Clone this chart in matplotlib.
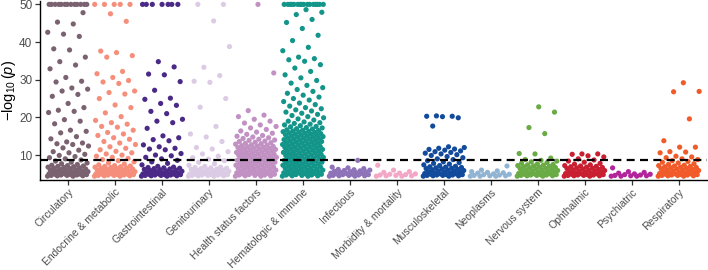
import matplotlib
matplotlib.use("Agg")
import matplotlib.pyplot as plt
import numpy as np

plt.rcParams['font.family'] = ['Liberation Sans', 'DejaVu Sans']
plt.rcParams['mathtext.fontset'] = 'custom'
plt.rcParams['mathtext.rm'] = 'Liberation Sans'
plt.rcParams['mathtext.it'] = 'Liberation Sans:italic'

categories = ['Circulatory', 'Endocrine & metabolic', 'Gastrointestinal', 'Genitourinary',
              'Health status factors', 'Hematologic & immune', 'Infectious',
              'Morbidity & mortality', 'Musculoskeletal', 'Neoplasms', 'Nervous system',
              'Ophthalmic', 'Psychiatric', 'Respiratory']

colors = ['#7b6271', '#f58f7c', '#4a2a86', '#dccbe4', '#c291c3', '#13958a', '#8f73b9',
          '#f4a6c6', '#124a9c', '#92b4d3', '#6aab45', '#c81f31', '#b2249b', '#f15a29']

# -log10(p) per association, grouped by category (values above 50 capped at 50)
circulatory = [4.4, 4.4, 4.5, 4.5, 4.6, 4.6, 4.7, 4.7, 4.8, 4.8, 4.9, 4.9, 5.0, 5.0, 5.1,
               5.2, 5.2, 5.3, 5.4, 5.4, 5.5, 5.6, 5.6, 5.7, 5.8, 5.9, 6.0, 6.1, 6.2, 6.3,
               6.4, 6.5, 6.6, 6.7, 6.8, 6.9, 7.0, 7.1, 7.2, 7.3, 7.5, 7.7, 7.9, 8.1, 8.4,
               8.7, 9.0, 9.3, 9.6, 9.9, 10.2, 10.6, 10.9, 11.3, 11.9, 12.4, 12.8, 13.0,
               13.2, 13.5, 14.3, 14.9, 15.9, 16.3, 16.6, 18.3, 19.0, 19.4, 21.3, 21.6, 21.9,
               22.6, 23.7, 25.6, 26.1, 27.0, 27.5, 27.8, 29.4, 29.6, 30.6, 32.9, 33.9, 34.8,
               36.0, 37.9, 38.2, 41.5, 42.1, 42.6, 44.8, 45.3, 47.8,
               50, 50, 50, 50, 50, 50, 50, 50, 50, 50, 50, 50, 50]
endocrine = [4.4, 4.4, 4.5, 4.5, 4.6, 4.6, 4.7, 4.7, 4.8, 4.8, 4.9, 4.9, 5.0, 5.0, 5.1, 5.2,
             5.2, 5.3, 5.4, 5.4, 5.5, 5.6, 5.6, 5.7, 5.8, 5.9, 6.0, 6.1, 6.2, 6.3, 6.4, 6.5,
             6.6, 6.7, 6.8, 6.9, 7.0, 7.1, 7.2, 7.4, 7.6, 7.9, 8.2, 8.5, 8.8, 9.1, 9.4, 9.7,
             10.0, 10.3, 10.6, 11.0, 11.4, 11.8, 12.2, 12.8, 13.2, 13.6, 14.2, 14.6, 15.2,
             15.6, 16.0, 16.6, 17.4, 17.6, 18.2, 18.6, 19.2, 20.2, 21.2, 22.6, 23.3, 25.0,
             26.2, 26.6, 27.0, 29.0, 29.4, 29.8, 30.6, 31.6, 32.2, 36.0, 36.4, 37.2, 37.6,
             45.5, 47.5, 50, 50, 50, 50, 50]
gastrointestinal = [4.4, 4.4, 4.5, 4.5, 4.6, 4.6, 4.7, 4.7, 4.8, 4.8, 4.9, 4.9, 5.0, 5.0,
                    5.1, 5.2, 5.2, 5.3, 5.4, 5.5, 5.6, 5.7, 5.8, 5.9, 6.0, 6.1, 6.2, 6.3,
                    6.4, 6.5, 6.6, 6.7, 6.8, 7.0, 7.4, 7.8, 8.2, 8.6, 9.0, 9.4, 9.8, 10.0,
                    10.4, 11.4, 11.6, 11.8, 12.2, 12.7, 13.8, 14.1, 14.6, 15.1, 17.1, 18.6,
                    19.0, 19.5, 21.0, 21.6, 23.2, 23.7, 24.8, 25.1, 27.2, 29.5, 31.3, 31.5,
                    33.4, 34.8, 50, 50, 50, 50, 50, 50, 50]
genitourinary = [4.4, 4.4, 4.5, 4.5, 4.6, 4.6, 4.7, 4.7, 4.8, 4.8, 4.9, 4.9, 5.0, 5.0, 5.1,
                 5.2, 5.2, 5.3, 5.4, 5.5, 5.6, 5.7, 5.8, 5.9, 6.0, 6.1, 6.2, 6.3, 6.4, 6.5,
                 6.6, 6.7, 6.8, 7.0, 7.3, 7.7, 8.1, 8.5, 8.9, 9.3, 9.7, 10.3, 10.9, 11.6,
                 12.0, 13.6, 14.8, 15.6, 17.6, 22.7, 25.0, 29.3, 29.6, 31.1, 33.3, 38.8,
                 45.6, 50, 50]
health_status = [4.4, 4.4, 4.5, 4.5, 4.6, 4.7, 4.7, 4.8, 4.9, 5.0, 5.0, 5.1, 5.2, 5.3, 5.4,
                 5.4, 5.5, 5.6, 5.7, 5.8, 5.9, 6.0, 6.1, 6.2, 6.3, 6.4, 6.5, 6.6, 6.7, 6.8,
                 6.9, 7.0, 7.1, 7.2, 7.3, 7.4, 7.5, 7.6, 7.7, 7.8, 7.9, 8.0, 8.1, 8.2, 8.3,
                 8.4, 8.5, 8.6, 8.7, 8.8, 8.9, 9.0, 9.1, 9.2, 9.3, 9.4, 9.5, 9.6, 9.7, 9.8,
                 9.9, 10.0, 10.1, 10.2, 10.3, 10.4, 10.5, 10.6, 10.7, 10.8, 10.9, 11.0,
                 11.1, 11.2, 11.3, 11.4, 11.5, 11.6, 11.7, 11.8, 11.9, 12.0, 12.1, 12.2,
                 12.3, 12.4, 12.5, 12.6, 12.7, 12.9, 13.0, 13.1, 13.3, 13.4, 13.6, 13.7,
                 13.9, 14.0, 14.2, 14.4, 14.6, 14.8, 15.0, 15.2, 15.5, 15.8, 16.1, 16.4,
                 16.8, 17.2, 17.6, 18.0, 18.5, 19.0, 19.5, 20.2, 20.6, 21.8, 31.8, 50]
hematologic = [4.4, 4.4, 4.5, 4.5, 4.6, 4.7, 4.7, 4.8, 4.9, 5.0, 5.0, 5.1, 5.2, 5.3, 5.4,
               5.4, 5.5, 5.6, 5.7, 5.8, 5.9, 6.0, 6.1, 6.2, 6.3, 6.4, 6.5, 6.6, 6.7, 6.8,
               6.9, 7.0, 7.1, 7.2, 7.3, 7.4, 7.5, 7.6, 7.7, 7.8, 7.9, 8.0, 8.1, 8.2, 8.3,
               8.4, 8.5, 8.6, 8.7, 8.8, 8.9, 9.0, 9.1, 9.2, 9.3, 9.4, 9.5, 9.6, 9.7, 9.8,
               9.9, 10.0, 10.1, 10.2, 10.3, 10.4, 10.5, 10.6, 10.7, 10.8, 10.9, 11.0, 11.1,
               11.2, 11.3, 11.4, 11.5, 11.6, 11.7, 11.8, 11.9, 12.0, 12.1, 12.2, 12.3, 12.4,
               12.5, 12.6, 12.7, 12.8, 12.9, 13.0, 13.1, 13.2, 13.3, 13.4, 13.5, 13.6, 13.7,
               13.8, 13.9, 14.0, 14.1, 14.2, 14.3, 14.4, 14.5, 14.6, 14.7, 14.8, 14.9, 15.0,
               15.1, 15.2, 15.3, 15.4, 15.5, 15.6, 15.7, 15.8, 15.9, 16.0, 16.1, 16.2, 16.3,
               16.4, 16.5, 16.6, 16.7, 16.9, 17.0, 17.2, 17.3, 17.5, 17.6, 17.8, 18.0, 18.2,
               18.4, 18.6, 18.8, 19.0, 19.3, 19.6, 19.9, 20.2, 20.5, 20.8, 21.1, 21.4, 21.7,
               22.0, 22.3, 22.6, 23.0, 23.4, 23.8, 24.2, 24.6, 25.0, 25.4, 25.9, 26.4, 26.9,
               27.4, 27.9, 28.5, 29.1, 29.8, 30.5, 31.3, 32.2, 33.1, 34.0, 34.9, 35.3, 35.6,
               36.0, 37.7, 38.6, 40.4, 41.8, 43.6, 45.2, 46.0, 47.3, 47.9, 48.6,
               50, 50, 50, 50, 50, 50, 50, 50, 50, 50, 50, 50, 50, 50, 50, 50]
infectious = [4.4, 4.4, 4.5, 4.5, 4.6, 4.6, 4.7, 4.8, 4.8, 4.9, 5.0, 5.1, 5.1, 5.2, 5.3,
              5.4, 5.5, 5.6, 5.7, 5.8, 5.9, 6.0, 6.1, 6.2, 6.4, 6.6, 6.8, 8.6]
morbidity = [4.4, 4.4, 4.5, 4.5, 4.6, 4.7, 4.8, 4.9, 5.0, 5.2, 5.4, 5.6, 6.0, 7.3]
musculoskeletal = [4.4, 4.4, 4.5, 4.5, 4.6, 4.6, 4.7, 4.7, 4.8, 4.8, 4.9, 5.0, 5.0, 5.1,
                   5.2, 5.3, 5.4, 5.5, 5.6, 5.7, 5.8, 5.9, 6.0, 6.1, 6.2, 6.3, 6.4, 6.5,
                   6.6, 6.7, 6.8, 6.9, 7.0, 7.2, 7.4, 7.6, 7.8, 8.0, 8.2, 8.5, 8.8, 9.0,
                   9.3, 9.6, 9.9, 10.1, 10.3, 10.5, 10.7, 10.9, 11.1, 11.3, 11.5, 11.6,
                   11.8, 12.0, 12.2, 17.7, 19.9, 20.2, 20.3, 20.3, 20.4]
neoplasms = [4.4, 4.4, 4.4, 4.5, 4.5, 4.6, 4.7, 4.8, 4.9, 5.0, 5.2, 5.3, 5.4, 5.6, 5.8,
             6.0, 7.1]
nervous = [4.4, 4.4, 4.5, 4.5, 4.6, 4.6, 4.7, 4.7, 4.8, 4.8, 4.9, 5.0, 5.0, 5.1, 5.2, 5.3,
           5.4, 5.5, 5.6, 5.7, 5.8, 5.9, 6.0, 6.1, 6.2, 6.3, 6.4, 6.5, 6.6, 6.7, 6.8, 6.9,
           7.0, 7.1, 7.2, 7.3, 7.4, 7.5, 7.6, 7.8, 8.0, 8.2, 8.4, 8.6, 8.8, 9.2, 10.3, 10.4,
           15.7, 17.3, 21.4, 22.8]
ophthalmic = [4.4, 4.4, 4.5, 4.5, 4.6, 4.6, 4.7, 4.7, 4.8, 4.8, 4.9, 5.0, 5.0, 5.1, 5.2,
              5.3, 5.4, 5.5, 5.6, 5.7, 5.8, 5.9, 6.0, 6.1, 6.2, 6.3, 6.4, 6.5, 6.6, 6.7,
              6.8, 6.9, 7.0, 7.1, 7.2, 7.4, 7.6, 7.8, 8.1, 8.4, 8.7, 9.0, 9.5, 9.8, 10.2,
              10.3, 10.3]
psychiatric = [4.4, 4.4, 4.4, 4.5, 4.5, 4.6, 4.7, 4.8, 4.9, 5.0, 5.2, 5.4, 5.6, 6.6]
respiratory = [4.4, 4.4, 4.5, 4.5, 4.6, 4.6, 4.7, 4.7, 4.8, 4.8, 4.9, 5.0, 5.0, 5.1, 5.2,
               5.3, 5.4, 5.5, 5.6, 5.7, 5.8, 5.9, 6.0, 6.1, 6.2, 6.3, 6.4, 6.5, 6.6, 6.7,
               6.8, 6.9, 7.0, 7.1, 7.2, 7.3, 7.5, 7.7, 7.9, 8.1, 8.3, 8.5, 8.8, 9.0, 9.3,
               9.5, 9.7, 10.6, 10.8, 10.9, 12.1, 12.1, 13.8, 19.6, 26.8, 26.9, 29.2]

threshold = 8.7

series = [circulatory, endocrine, gastrointestinal, genitourinary, health_status,
          hematologic, infectious, morbidity, musculoskeletal, neoplasms, nervous,
          ophthalmic, psychiatric, respiratory]

fig = plt.figure(figsize=(7.08, 2.70), dpi=100)
ax = fig.add_axes([40 / 708, 90 / 270, 667 / 708, 179 / 270])

golden = 0.6180339887
for k, (vals, col) in enumerate(zip(series, colors)):
    v = np.sort(np.array(vals, dtype=float))
    # deterministic jitter, spread by rank
    idx = np.arange(len(v))
    off = ((idx * golden) % 1.0 - 0.5) * 0.88
    ax.scatter(k + 1 + off, v, s=14, color=col, edgecolors='none', zorder=2)

ax.axhline(threshold, color='black', lw=1.6, dashes=(3.6, 2.4), zorder=3)

ax.set_xlim(0.4, 14.6)
ax.set_ylim(3.38, 50.9)
ax.set_yticks([10, 20, 30, 40, 50])
ax.set_xticks(range(1, len(categories) + 1))
ax.set_xticklabels(categories, rotation=45, ha='right', va='top', rotation_mode='anchor')
ax.tick_params(axis='x', labelsize=7.5, labelcolor='#4d4d4d', length=3.5, width=0.9,
               color='#333333', pad=1.5)
ax.tick_params(axis='y', labelsize=8.5, labelcolor='#4d4d4d', length=3.5, width=0.9,
               color='#333333', pad=2)
ax.set_ylabel(r'$-\log_{10}(p)$', fontsize=10.5, labelpad=1)
for s in ['top', 'right']:
    ax.spines[s].set_visible(False)
for s in ['left', 'bottom']:
    ax.spines[s].set_linewidth(1.0)

fig.savefig('out.png', dpi=100)
